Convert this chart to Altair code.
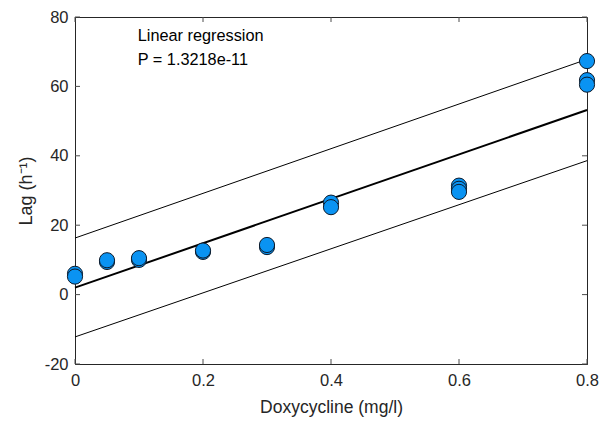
import altair as alt
import pandas as pd

# Observations
dose = [0, 0, 0.05, 0.05, 0.1, 0.1, 0.2, 0.2, 0.3, 0.3, 0.4, 0.4, 0.6, 0.6, 0.6, 0.8, 0.8, 0.8]
lag = [6.0, 5.2, 9.4, 9.9, 10.0, 10.5, 12.3, 12.7, 13.7, 14.3, 26.5, 25.2, 31.4, 30.5, 29.6, 67.3, 61.8, 60.5]

# Regression line and prediction bounds (end points)
fit_x = [0, 0.8]
fit_y = [2.0, 53.2]
upper_y = [16.3, 67.8]
lower_y = [-12.2, 38.6]

x_ticks = [0, 0.2, 0.4, 0.6, 0.8]
y_ticks = [-20, 0, 20, 40, 60, 80]

ann_text = ["Linear regression", "P = 1.3218e-11"]
ann_x = [0.098, 0.098]
ann_y = [73.1, 66.2]

W, H = 512, 347
FONT = "Liberation Sans"
AX = "#262626"

pts = pd.DataFrame({"dose": dose, "lag": lag})
lines = pd.DataFrame({
    "x": fit_x * 3,
    "y": fit_y + upper_y + lower_y,
    "s": ["fit"] * 2 + ["upper"] * 2 + ["lower"] * 2,
    "w": [2] * 2 + [1] * 2 + [1] * 2,
})
xt = pd.DataFrame({"v": x_ticks})
yt = pd.DataFrame({"v": y_ticks})
ann = pd.DataFrame({"t": ann_text, "x": ann_x, "y": ann_y})

xs = alt.Scale(domain=[0, 0.8], nice=False, zero=False)
ys = alt.Scale(domain=[-20, 80], nice=False, zero=False)

xaxis = alt.Axis(values=x_ticks, labelExpr="'' + datum.value", tickSize=0, grid=False, labelFlush=False,
                 labelPadding=8, titlePadding=10, domainColor=AX, labelColor=AX, titleColor=AX,
                 labelFontSize=16.5, titleFontSize=17.5, titleFontWeight="normal",
                 labelFont=FONT, titleFont=FONT, title="Doxycycline (mg/l)")
yaxis = alt.Axis(values=y_ticks, labelExpr="'' + datum.value", tickSize=0, grid=False, labelFlush=False,
                 labelPadding=7, titlePadding=9, domainColor=AX, labelColor=AX, titleColor=AX,
                 labelFontSize=16.5, titleFontSize=18, titleFontWeight="normal",
                 labelFont=FONT, titleFont=FONT, title="Lag (h\u207b\u00b9)")

line_layer = alt.Chart(lines).mark_line(color="black").encode(
    x=alt.X("x:Q", scale=xs, axis=xaxis),
    y=alt.Y("y:Q", scale=ys, axis=yaxis),
    detail="s:N",
    strokeWidth=alt.StrokeWidth("w:Q", legend=None, scale=alt.Scale(domain=[1, 2], range=[1, 2])),
)

pt_layer = alt.Chart(pts).mark_point(filled=True, shape="circle", size=230, fill="#0a93f2",
                                     stroke="#0d1a2a", strokeWidth=1, opacity=1).encode(
    x=alt.X("dose:Q", scale=xs),
    y=alt.Y("lag:Q", scale=ys),
)

tick_col = "#4d4d4d"
xb = alt.Chart(xt).mark_rule(color=tick_col).encode(x=alt.X("v:Q", scale=xs), y=alt.value(H), y2=alt.value(H - 5))
xtop = alt.Chart(xt).mark_rule(color=tick_col).encode(x=alt.X("v:Q", scale=xs), y=alt.value(0), y2=alt.value(5))
yl = alt.Chart(yt).mark_rule(color=tick_col).encode(y=alt.Y("v:Q", scale=ys), x=alt.value(0), x2=alt.value(5))
yr = alt.Chart(yt).mark_rule(color=tick_col).encode(y=alt.Y("v:Q", scale=ys), x=alt.value(W), x2=alt.value(W - 5))

ann_layer = alt.Chart(ann).mark_text(align="left", baseline="alphabetic", font=FONT, fontSize=16.3,
                                     color="black").encode(
    x=alt.X("x:Q", scale=xs), y=alt.Y("y:Q", scale=ys), text="t:N")

chart = alt.layer(xb, xtop, yl, yr, line_layer, pt_layer, ann_layer).properties(
    width=W, height=H,
    autosize=alt.AutoSizeParams(type="none"),
    padding={"left": 75, "top": 17, "right": 17, "bottom": 58},
    background="white",
).configure_view(stroke=AX, strokeWidth=1)

chart.save("out.html", embed_options={"renderer": "svg", "actions": False})
